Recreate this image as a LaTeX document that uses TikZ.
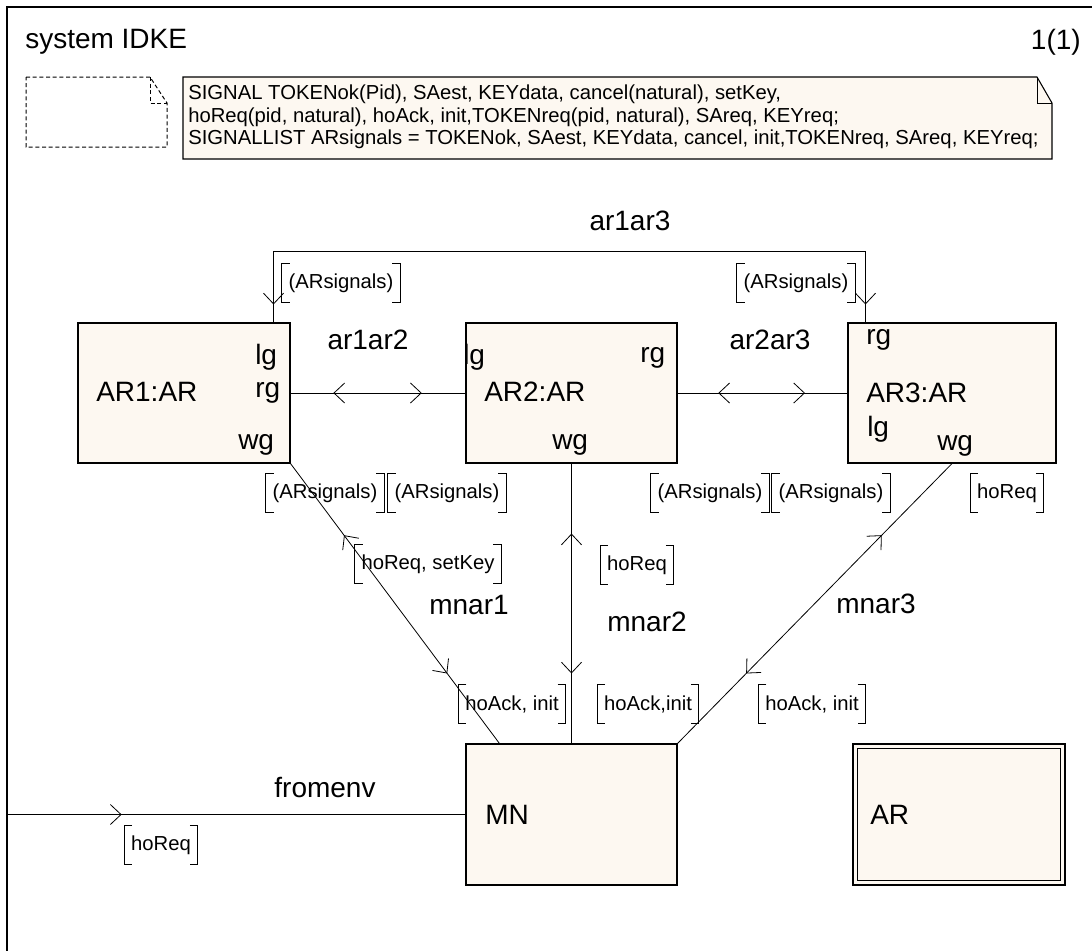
\documentclass[tikz,border=0pt]{standalone}
\usepackage{fontspec}
\setmainfont{Liberation Sans}
\usetikzlibrary{arrows.meta,decorations.markings}

\definecolor{sdlfill}{RGB}{253,248,241}
\newcommand{\bigfont}{\fontsize{21}{25}\selectfont}
\newcommand{\sigfont}{\fontsize{15.2}{17}\selectfont}

\tikzset{
  block/.style={draw, line width=0.8pt, fill=sdlfill, inner sep=0pt},
  lab/.style={font=\bigfont, inner sep=0pt, anchor=west},
  chanlab/.style={font=\bigfont, inner sep=0pt},
  siglab/.style={font=\sigfont, inner xsep=5pt, inner ysep=0pt, minimum height=29pt},
  bracket/.style={line width=0.6pt},
  chan/.style={line width=0.6pt},
  dashnote/.style={line width=0.75pt, dash pattern=on 3pt off 2pt},
  arrowat/.style={postaction={decorate, decoration={markings,
      mark=at position #1 with {\arrow{Straight Barb[length=8pt, width=15pt]}}}}},
  rarrowat/.style={postaction={decorate, decoration={markings,
      mark=at position #1 with {\arrowreversed{Straight Barb[length=8pt, width=15pt]}}}}},
}

\begin{document}
\begin{tikzpicture}[x=0.75pt, y=-0.75pt]
  \useasboundingbox (0,0) rectangle (1092,951);

  % frame and heading
  \draw[line width=0.8pt] (1092,7) -- (7,7) -- (7,951);
  \node[lab] (title) at (25,42) {system IDKE};
  \node[lab, anchor=east] (page) at (1081,42) {1(1)};

  % text symbols
  \draw[dashnote] (26,77) -- (150,77) -- (167,103) -- (167,147) -- (26,147) -- cycle;
  \draw[dashnote] (150,77) -- (150,103) -- (167,103);
  \draw[line width=0.8pt, fill=sdlfill] (183,77) -- (1037,77) -- (1052,103)
        -- (1052,159) -- (183,159) -- cycle;
  \draw[line width=0.6pt] (1037,77) -- (1037,103) -- (1052,103);
  \node[font=\sigfont, align=left, anchor=west, inner sep=0pt] (decl) at (188,117)
    {SIGNAL TOKENok(Pid), SAest, KEYdata, cancel(natural), setKey,\\
     hoReq(pid, natural), hoAck, init,TOKENreq(pid, natural), SAreq, KEYreq;\\
     SIGNALLIST ARsignals = TOKENok, SAest, KEYdata, cancel, init,TOKENreq, SAreq, KEYreq;};

  % blocks
  \node[block, minimum width=159pt, minimum height=105pt] (AR1) at (184,393) {};
  \node[block, minimum width=158.25pt, minimum height=105pt] (AR2) at (571.5,393) {};
  \node[block, minimum width=156pt, minimum height=105pt] (AR3) at (952,393) {};
  \node[block, minimum width=158.25pt, minimum height=105.75pt] (MN) at (571.5,814.5) {};
  \node[block, minimum width=159pt, minimum height=105.75pt] (ARtype) at (959,814.5) {};
  \draw[line width=0.7pt] ([shift={(4pt,-4pt)}]ARtype.north west)
        rectangle ([shift={(-4pt,4pt)}]ARtype.south east);

  % block names and gates
  \foreach \nm/\pos/\txt in {ar1name/{96,392}/AR1:AR, ar1lg/{255,357}/lg,
      ar1rg/{255,393}/rg, ar1wg/{238,445}/wg,
      ar2lg/{463,357}/lg, ar2rg/{640,358}/rg, ar2name/{484,392}/AR2:AR, ar2wg/{552,445}/wg,
      ar3rg/{866,340}/rg, ar3name/{866,393}/AR3:AR, ar3lg/{867,429}/lg, ar3wg/{937,446}/wg,
      mnname/{485,815}/MN, typename/{870,815}/AR}
    \node[lab] (\nm) at (\pos) {\txt};

  % channels
  \draw[chan, rarrowat=13.5pt, arrowat=-13.5pt]
    ([xshift=-12.75pt]AR1.north east) -- ++(0,-71) -| ([xshift=13.5pt]AR3.north west);
  \draw[chan, rarrowat=0.245, arrowat=0.75] (AR1.east) -- (AR2.west);
  \draw[chan, rarrowat=0.24, arrowat=0.75] (AR2.east) -- (AR3.west);
  \draw[chan, rarrowat=0.256, arrowat=0.75] (AR1.south east) -- ([xshift=25.5pt]MN.north west);
  \draw[chan, rarrowat=0.25, arrowat=0.75] (AR2.south) -- (MN.north);
  \draw[chan, rarrowat=0.256, arrowat=0.75] (AR3.south) -- (MN.north east);
  \coordinate (env) at (7,814.5);
  \draw[chan, arrowat=0.25] (env) -- (MN.west);

  % channel names
  \node[chanlab] (ar1ar3) at (630,221) {ar1ar3};
  \node[chanlab] (ar1ar2) at (368,340) {ar1ar2};
  \node[chanlab] (ar2ar3) at (770,340) {ar2ar3};
  \node[chanlab] (mnar1) at (469,605) {mnar1};
  \node[chanlab] (mnar2) at (647,622) {mnar2};
  \node[chanlab] (mnar3) at (876,604) {mnar3};
  \node[chanlab] (fromenv) at (325,787) {fromenv};

  % signal lists
  \foreach \nm/\pos/\txt in {sl1/{341,283}/{(ARsignals)}, sl2/{796,283}/{(ARsignals)},
      sl3/{325,493}/{(ARsignals)}, sl4/{447,493}/{(ARsignals)},
      sl5/{710,493}/{(ARsignals)}, sl6/{831,493}/{(ARsignals)},
      sl7/{1007,493}/{hoReq}, sl8/{428,564}/{hoReq, setKey}, sl9/{637,565}/{hoReq},
      sl10/{512,704}/{hoAck, init}, sl11/{648,704}/{hoAck,init},
      sl12/{812,704}/{hoAck, init}, sl13/{161,845}/{hoReq}}{
    \node[siglab] (\nm) at (\pos) {\txt};
    \draw[bracket] ([xshift=6pt]\nm.north west) -| (\nm.south west) -- ++(6pt,0);
    \draw[bracket] ([xshift=-6pt]\nm.north east) -| (\nm.south east) -- ++(-6pt,0);
  }
\end{tikzpicture}
\end{document}
